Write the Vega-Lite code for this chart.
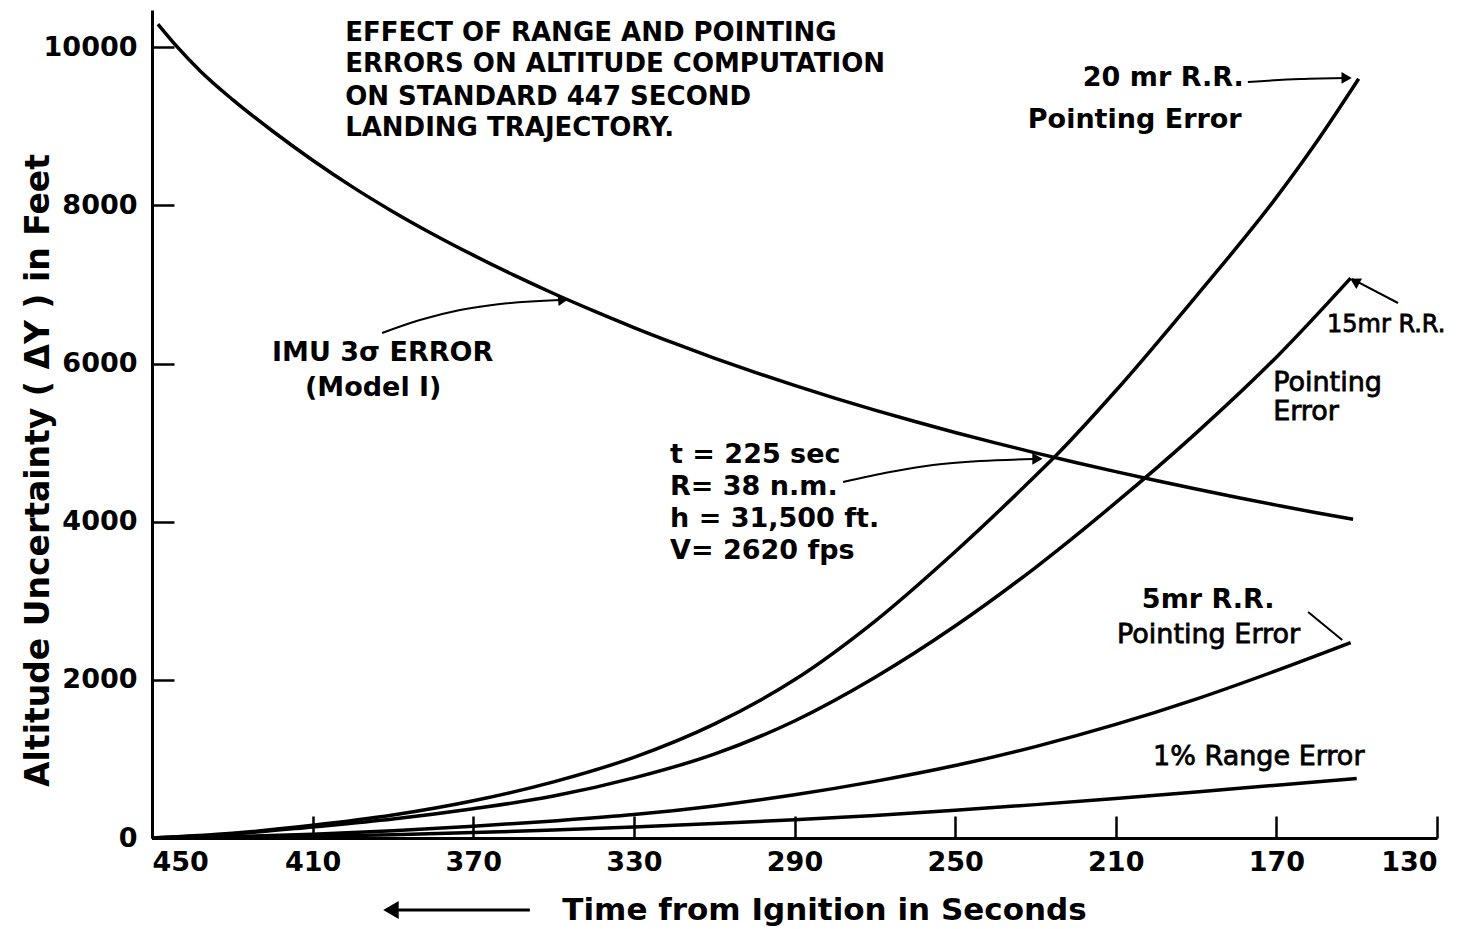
{
  "$schema": "https://vega.github.io/schema/vega-lite/v6.json",
  "width": 1285,
  "height": 828,
  "autosize": {"type": "none"},
  "padding": {"left": 152, "top": 10, "right": 26, "bottom": 91},
  "background": "white",
  "config": {
    "view": {"stroke": null},
    "font": "DejaVu Sans",
    "axis": {
      "grid": false,
      "domainColor": "black",
      "domainWidth": 3,
      "tickColor": "black",
      "tickWidth": 2.5,
      "labelColor": "black",
      "labelFont": "DejaVu Sans",
      "labelFontWeight": "bold",
      "labelFontSize": 27,
      "titleColor": "black",
      "titleFont": "DejaVu Sans",
      "titleFontWeight": "bold"
    }
  },
  "datasets": {
    "curves": [
      {"series": "IMU", "t": 448.5, "v": 10290},
      {"series": "IMU", "t": 444, "v": 10020},
      {"series": "IMU", "t": 438, "v": 9700},
      {"series": "IMU", "t": 430, "v": 9340},
      {"series": "IMU", "t": 420, "v": 8940},
      {"series": "IMU", "t": 410, "v": 8570},
      {"series": "IMU", "t": 400, "v": 8230},
      {"series": "IMU", "t": 390, "v": 7920},
      {"series": "IMU", "t": 380, "v": 7635},
      {"series": "IMU", "t": 370, "v": 7370},
      {"series": "IMU", "t": 360, "v": 7120},
      {"series": "IMU", "t": 350, "v": 6885},
      {"series": "IMU", "t": 340, "v": 6665},
      {"series": "IMU", "t": 330, "v": 6455},
      {"series": "IMU", "t": 320, "v": 6257},
      {"series": "IMU", "t": 310, "v": 6069},
      {"series": "IMU", "t": 300, "v": 5891},
      {"series": "IMU", "t": 290, "v": 5723},
      {"series": "IMU", "t": 280, "v": 5563},
      {"series": "IMU", "t": 270, "v": 5411},
      {"series": "IMU", "t": 260, "v": 5266},
      {"series": "IMU", "t": 250, "v": 5128},
      {"series": "IMU", "t": 240, "v": 4996},
      {"series": "IMU", "t": 230, "v": 4870},
      {"series": "IMU", "t": 220, "v": 4749},
      {"series": "IMU", "t": 210, "v": 4633},
      {"series": "IMU", "t": 200, "v": 4521},
      {"series": "IMU", "t": 190, "v": 4413},
      {"series": "IMU", "t": 180, "v": 4309},
      {"series": "IMU", "t": 170, "v": 4209},
      {"series": "IMU", "t": 160, "v": 4112},
      {"series": "IMU", "t": 150.9, "v": 4030},
      {"series": "20mr", "t": 450, "v": 0},
      {"series": "20mr", "t": 430, "v": 60},
      {"series": "20mr", "t": 410, "v": 160},
      {"series": "20mr", "t": 390, "v": 290},
      {"series": "20mr", "t": 370, "v": 470},
      {"series": "20mr", "t": 350, "v": 710},
      {"series": "20mr", "t": 330, "v": 1020},
      {"series": "20mr", "t": 310, "v": 1440},
      {"series": "20mr", "t": 290, "v": 2000},
      {"series": "20mr", "t": 270, "v": 2740},
      {"series": "20mr", "t": 250, "v": 3620},
      {"series": "20mr", "t": 230, "v": 4580},
      {"series": "20mr", "t": 225, "v": 4830},
      {"series": "20mr", "t": 210, "v": 5655},
      {"series": "20mr", "t": 190, "v": 6850},
      {"series": "20mr", "t": 170, "v": 8100},
      {"series": "20mr", "t": 160, "v": 8800},
      {"series": "20mr", "t": 149.5, "v": 9600},
      {"series": "15mr", "t": 450, "v": 0},
      {"series": "15mr", "t": 430, "v": 50},
      {"series": "15mr", "t": 410, "v": 140},
      {"series": "15mr", "t": 390, "v": 240},
      {"series": "15mr", "t": 370, "v": 370},
      {"series": "15mr", "t": 350, "v": 530},
      {"series": "15mr", "t": 330, "v": 760},
      {"series": "15mr", "t": 310, "v": 1060},
      {"series": "15mr", "t": 290, "v": 1480},
      {"series": "15mr", "t": 270, "v": 2030},
      {"series": "15mr", "t": 250, "v": 2680},
      {"series": "15mr", "t": 230, "v": 3420},
      {"series": "15mr", "t": 210, "v": 4240},
      {"series": "15mr", "t": 190, "v": 5120},
      {"series": "15mr", "t": 170, "v": 6080},
      {"series": "15mr", "t": 151.5, "v": 7080},
      {"series": "5mr", "t": 450, "v": 0},
      {"series": "5mr", "t": 430, "v": 16},
      {"series": "5mr", "t": 410, "v": 48},
      {"series": "5mr", "t": 390, "v": 92},
      {"series": "5mr", "t": 370, "v": 148},
      {"series": "5mr", "t": 350, "v": 216},
      {"series": "5mr", "t": 330, "v": 296},
      {"series": "5mr", "t": 310, "v": 406},
      {"series": "5mr", "t": 290, "v": 546},
      {"series": "5mr", "t": 270, "v": 716},
      {"series": "5mr", "t": 250, "v": 916},
      {"series": "5mr", "t": 230, "v": 1156},
      {"series": "5mr", "t": 210, "v": 1436},
      {"series": "5mr", "t": 190, "v": 1756},
      {"series": "5mr", "t": 170, "v": 2116},
      {"series": "5mr", "t": 151.5, "v": 2470},
      {"series": "1pct", "t": 450, "v": 0},
      {"series": "1pct", "t": 430, "v": 8},
      {"series": "1pct", "t": 410, "v": 22},
      {"series": "1pct", "t": 390, "v": 42},
      {"series": "1pct", "t": 370, "v": 68},
      {"series": "1pct", "t": 350, "v": 100},
      {"series": "1pct", "t": 330, "v": 138},
      {"series": "1pct", "t": 310, "v": 182},
      {"series": "1pct", "t": 290, "v": 230},
      {"series": "1pct", "t": 270, "v": 285},
      {"series": "1pct", "t": 250, "v": 350},
      {"series": "1pct", "t": 230, "v": 422},
      {"series": "1pct", "t": 210, "v": 500},
      {"series": "1pct", "t": 190, "v": 582},
      {"series": "1pct", "t": 170, "v": 668},
      {"series": "1pct", "t": 150, "v": 752}
    ],
    "callouts": [
      {"id": "imu", "k": 1, "t": 392.7, "v": 6386},
      {"id": "imu", "k": 2, "t": 383.3, "v": 6550},
      {"id": "imu", "k": 3, "t": 373.3, "v": 6677},
      {"id": "imu", "k": 4, "t": 363.3, "v": 6753},
      {"id": "imu", "k": 5, "t": 348.4, "v": 6803},
      {"id": "t225", "k": 1, "t": 277.9, "v": 4502},
      {"id": "t225", "k": 2, "t": 266.2, "v": 4628},
      {"id": "t225", "k": 3, "t": 255.5, "v": 4717},
      {"id": "t225", "k": 4, "t": 243.8, "v": 4767},
      {"id": "t225", "k": 5, "t": 230.6, "v": 4793},
      {"id": "r20", "k": 1, "t": 177.1, "v": 9560},
      {"id": "r20", "k": 2, "t": 164.1, "v": 9598},
      {"id": "r20", "k": 3, "t": 152.2, "v": 9611},
      {"id": "r15", "k": 1, "t": 139.7, "v": 6765},
      {"id": "r15", "k": 2, "t": 151.2, "v": 7069},
      {"id": "r5", "k": 1, "t": 162.1, "v": 2858},
      {"id": "r5", "k": 2, "t": 153.6, "v": 2504}
    ],
    "axisArrow": [
      {"k": 1, "t": 390.0, "v": -910},
      {"k": 2, "t": 355.9, "v": -910}
    ],
    "heads": [
      {"id": "imu", "t": 347.6, "v": 6806, "ang": 355},
      {"id": "t225", "t": 229.5, "v": 4795, "ang": 0},
      {"id": "r20", "t": 152.5, "v": 9611, "ang": 0},
      {"id": "r15", "t": 150.5, "v": 7040, "ang": 208}
    ],
    "axisHead": [
      {"t": 390.5, "v": -910, "ang": 180}
    ],
    "titleLines": [
      {"t": 401.9, "v": 10180, "text": "EFFECT OF RANGE AND POINTING"},
      {"t": 401.9, "v": 9788, "text": "ERRORS ON ALTITUDE COMPUTATION"},
      {"t": 401.9, "v": 9370, "text": "ON STANDARD 447 SECOND"},
      {"t": 401.9, "v": 8978, "text": "LANDING TRAJECTORY."}
    ],
    "boldLabels": [
      {"t": 420.1, "v": 6133, "text": "IMU 3σ ERROR"},
      {"t": 411.9, "v": 5690, "text": "(Model I)"},
      {"t": 321.0, "v": 4843, "text": "t =  225 sec"},
      {"t": 321.0, "v": 4438, "text": "R=  38 n.m."},
      {"t": 321.0, "v": 4034, "text": "h =  31,500 ft."},
      {"t": 321.0, "v": 3629, "text": "V=  2620 fps"},
      {"t": 218.2, "v": 9611, "text": "20 mr R.R."},
      {"t": 231.9, "v": 9079, "text": "Pointing Error"},
      {"t": 203.5, "v": 3010, "text": "5mr  R.R."}
    ],
    "plainLabels": [
      {"t": 170.8, "v": 5754, "text": "Pointing"},
      {"t": 170.8, "v": 5387, "text": "Error"},
      {"t": 209.7, "v": 2567, "text": "Pointing Error"},
      {"t": 200.7, "v": 1024, "text": "1% Range Error"}
    ],
    "smallLabels": [
      {"t": 157.4, "v": 6487, "text": "15mr R.R."}
    ]
  },
  "encoding": {
    "x": {
      "field": "t",
      "type": "quantitative",
      "scale": {"domain": [130, 450], "reverse": true, "nice": false, "zero": false},
      "axis": {
        "values": [450, 410, 370, 330, 290, 250, 210, 170, 130],
        "format": "d",
        "tickSize": -22,
        "labelPadding": 33,
        "title": "Time from Ignition in Seconds",
        "titleFontSize": 31,
        "titleX": 672,
        "titleY": 72,
        "titleAlign": "center",
        "titleBaseline": "middle"
      }
    },
    "y": {
      "field": "v",
      "type": "quantitative",
      "scale": {"domain": [0, 10470], "nice": false},
      "axis": {
        "values": [0, 2000, 4000, 6000, 8000, 10000],
        "format": "d",
        "tickSize": -22,
        "labelPadding": 37,
        "title": "Altitude Uncertainty ( ΔY ) in Feet",
        "titleFontSize": 33,
        "titleAngle": 270,
        "titleX": -114,
        "titleY": 460,
        "titleAlign": "center",
        "titleBaseline": "middle"
      }
    }
  },
  "layer": [
    {
      "data": {"name": "curves"},
      "mark": {"type": "line", "color": "black", "strokeWidth": 3.5, "interpolate": "monotone"},
      "encoding": {"detail": {"field": "series"}}
    },
    {
      "data": {"name": "callouts"},
      "mark": {"type": "line", "color": "black", "strokeWidth": 2, "interpolate": "monotone"},
      "encoding": {
        "detail": {"field": "id"},
        "order": {"field": "k", "type": "quantitative"}
      }
    },
    {
      "data": {"name": "axisArrow"},
      "mark": {"type": "line", "color": "black", "strokeWidth": 3},
      "encoding": {"order": {"field": "k", "type": "quantitative"}}
    },
    {
      "data": {"name": "heads"},
      "mark": {"type": "point", "shape": "triangle-right", "filled": true, "color": "black", "opacity": 1, "size": 140},
      "encoding": {"angle": {"field": "ang", "type": "quantitative", "scale": null}}
    },
    {
      "data": {"name": "axisHead"},
      "mark": {"type": "point", "shape": "triangle-right", "filled": true, "color": "black", "opacity": 1, "size": 320},
      "encoding": {"angle": {"field": "ang", "type": "quantitative", "scale": null}}
    },
    {
      "data": {"name": "titleLines"},
      "mark": {"type": "text", "align": "left", "baseline": "middle", "fontSize": 26, "fontWeight": "bold", "font": "DejaVu Sans", "color": "black"},
      "encoding": {"text": {"field": "text"}}
    },
    {
      "data": {"name": "boldLabels"},
      "mark": {"type": "text", "align": "left", "baseline": "middle", "fontSize": 27, "fontWeight": "bold", "font": "DejaVu Sans", "color": "black"},
      "encoding": {"text": {"field": "text"}}
    },
    {
      "data": {"name": "plainLabels"},
      "mark": {"type": "text", "align": "left", "baseline": "middle", "fontSize": 27, "fontWeight": "normal", "font": "DejaVu Sans", "color": "black", "stroke": "black", "strokeWidth": 0.8},
      "encoding": {"text": {"field": "text"}}
    },
    {
      "data": {"name": "smallLabels"},
      "mark": {"type": "text", "align": "left", "baseline": "middle", "fontSize": 24, "fontWeight": "normal", "font": "DejaVu Sans", "color": "black", "stroke": "black", "strokeWidth": 0.8},
      "encoding": {"text": {"field": "text"}}
    }
  ]
}
